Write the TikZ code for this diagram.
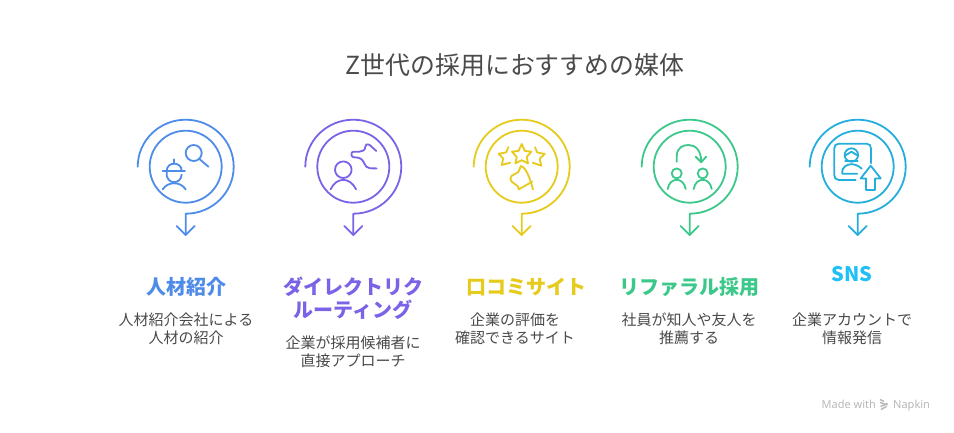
\documentclass[tikz,border=0pt]{standalone}
\usepackage{fontspec}
\setmainfont{Noto Sans CJK JP}
\newfontfamily\latinfont{Noto Sans}
\definecolor{cblue}{HTML}{4F8BE8}
\definecolor{cpurple}{HTML}{7B62E6}
\definecolor{cyellow}{HTML}{E6CB1C}
\definecolor{cgreen}{HTML}{3CC88A}
\definecolor{ccyan}{HTML}{24AEDC}
\definecolor{hcyan}{HTML}{1FC0F6}
\definecolor{ink}{HTML}{4A4A4A}
\tikzset{
  ln/.style={line width=1.8pt,line cap=round,line join=round},
  ttl/.style={font=\fontsize{24.9}{28}\selectfont,text=ink,inner sep=0pt},
  head/.style={font=\bfseries\fontsize{20}{23}\selectfont,inner sep=0pt},
  bodyt/.style={font=\fontsize{15}{18}\selectfont,text=ink,inner sep=0pt},
  wmark/.style={inner sep=0pt,anchor=base west,text=black!28,font=\latinfont\fontsize{11}{12}\selectfont},
}
\newcommand{\spiral}[2]{%
  \draw[ln,#2,shift={#1}] (0,0) circle[radius=36];
  \draw[ln,#2,shift={#1}] (-48,0) arc[start angle=180,end angle=-90,x radius=48,y radius=-47] -- (0,68.3);
  \draw[ln,#2,shift={#1}] (-9,59.3) -- (0,68.3) -- (9,59.3);
}
\begin{document}
\begin{tikzpicture}[x=1pt,y=-1pt]
\useasboundingbox (0,0) rectangle (954,432);
\fill[white] (0,0) rectangle (954,432);
\node[ttl] (title) at (515,64.7) {Z世代の採用におすすめの媒体};

% spirals
\spiral{(185.7,166.7)}{cblue}
\spiral{(353.3,166.7)}{cpurple}
\spiral{(521.7,166.7)}{cyellow}
\spiral{(689.7,166.7)}{cgreen}
\spiral{(857.7,166.7)}{ccyan}

% icon 1
\begin{scope}[shift={(185.7,166.7)},ln,cblue]
  \draw (8,-13.7) circle[radius=8];
  \draw (13.7,-7.7) -- (22.7,0);
  \draw (-23,4.3) -- (-0.7,4.3);
  \draw (-11.7,-7.3) -- (-11.7,-3);
  \draw (-19,4.3) .. controls (-19,-5.5) and (-4,-5.5) .. (-4,4.3);
  \draw (-19,4.3) -- (-19,9) .. controls (-18,13) and (-15,15.5) .. (-11.7,15.5) .. controls (-8,15.5) and (-4.5,13) .. (-4,8);
  \draw (-23,22.7) .. controls (-18,14.5) and (-5,14.5) .. (0,22.7);
\end{scope}

% icon 2
\begin{scope}[shift={(353.3,166.7)},ln,cpurple]
  \draw (-10,3) circle[radius=8.3];
  \draw (-22.7,22.7) .. controls (-17,10) and (-3,10) .. (2.7,22.7);
  \draw (23,-15.7) -- (16,-22) .. controls (14,-23.5) and (12,-22) .. (12,-20) .. controls (12,-16.5) and (9,-15) .. (6,-15)
    -- (-0,-15) .. controls (-2.5,-15) and (-2.5,-10) .. (0,-9.5) -- (5,-9) .. controls (10,-8) and (10,-4) .. (13,0) .. controls (15,1.7) and (17,1.7) .. (23.3,1.7);
\end{scope}

% icon 3
\begin{scope}[shift={(521.7,166.7)},ln,cyellow]
  \draw (0,-22.7) -- (3.2,-15.8) -- (9.7,-15) -- (5,-9.8) -- (6.3,-3.3) -- (0,-6.5) -- (-6.3,-3.3) -- (-5,-9.8) -- (-9.7,-15) -- (-3.2,-15.8) -- cycle;
  \draw (-13.3,-19.5) -- (-15.5,-14.3) -- (-23,-13) -- (-18.5,-8) -- (-20,-1.7) -- (-11.5,-4);
  \draw (13.3,-19.5) -- (15.5,-14.3) -- (23,-12.7) -- (18,-8) -- (19.5,-1) -- (11,-4);
  \draw (-0.7,-0.7) .. controls (4,1) and (8,10) .. (11.3,22.7);
  \draw (-0.7,-0.7) -- (-3.5,5.5) -- (-10,9) .. controls (-12,10.5) and (-11.5,14) .. (-10,15) -- (-3.7,19.7) -- (-3,22.7) -- (10.5,15);
\end{scope}

% icon 4
\begin{scope}[shift={(689.7,166.7)},ln,cgreen]
  \draw (-13,-5) -- (-13,-10) .. controls (-13,-20) and (-6,-21.7) .. (-1,-21.7) .. controls (6,-21.7) and (11.5,-16) .. (11.5,-5);
  \draw (6,-10) -- (11.5,-4.5) -- (16.5,-10);
  \draw (-13,6.7) circle[radius=5];
  \draw (13,6.7) circle[radius=5];
  \draw (-22,22.3) .. controls (-20,10) and (-6,10) .. (-4,22.3);
  \draw (4,22.3) .. controls (6,10) and (20,10) .. (22,22.3);
\end{scope}

% icon 5
\begin{scope}[shift={(857.7,166.7)},ln,ccyan]
  \draw (13.3,-3.5) -- (13.3,-18) .. controls (13.3,-21) and (12,-23) .. (9,-23) -- (-19,-23) .. controls (-22,-23) and (-23.5,-21) .. (-23.5,-18) -- (-23.5,8) .. controls (-23.5,11) and (-22,13.3) .. (-19,13.3) -- (-2,13.3);
  \draw (-6.3,-11.7) circle[radius=6.7];
  \draw (-12,-11.5) -- (-6.3,-15) -- (-0.6,-11.5);
  \draw (-12.5,-6) -- (0,-6);
  \draw (-0.5,7) -- (-15.5,7) -- (-15.5,5) .. controls (-15.5,0) and (-10,-2.5) .. (-6.3,-2.5) .. controls (-3,-2.5) and (1,-1) .. (4,2);
  \draw (13,-1) -- (23,11.7) -- (17.3,11.7) -- (17.3,23.3) -- (8.3,23.3) -- (8.3,11.7) -- (3,11.7) -- cycle;
\end{scope}

% labels
\node[head,text=cblue] (h1) at (186,287) {人材紹介};
\node[head,text=cpurple] (h2a) at (353,287) {ダイレクトリク};
\node[head,text=cpurple] (h2b) at (353,310) {ルーティング};
\node[head,text=cyellow] (h3) at (526,287) {口コミサイト};
\node[head,text=cgreen] (h4) at (689,287) {リファラル採用};
\node[head,text=hcyan] (h5) at (852,274) {SNS};

\node[bodyt] (b1a) at (186,320) {人材紹介会社による};
\node[bodyt] (b1b) at (186,338) {人材の紹介};
\node[bodyt] (b2a) at (353,343) {企業が採用候補者に};
\node[bodyt] (b2b) at (353,361) {直接アプローチ};
\node[bodyt] (b3a) at (515,320) {企業の評価を};
\node[bodyt] (b3b) at (515,338) {確認できるサイト};
\node[bodyt] (b4a) at (689,320) {社員が知人や友人を};
\node[bodyt] (b4b) at (689,338) {推薦する};
\node[bodyt] (b5a) at (852,320) {企業アカウントで};
\node[bodyt] (b5b) at (852,338) {情報発信};

% watermark
\node[wmark] (wm1) at (821.5,408) {Made with};
\node[wmark] (wm2) at (893,408) {Napkin};
\begin{scope}[black!28,line width=1.5pt]
  \draw (880,399.5) -- (884,401.5);
  \draw (880,402.5) -- (887.5,405);
  \draw (880.5,406.5) -- (887.5,403.5);
  \draw (881,409.5) -- (886.5,406.5);
\end{scope}
\end{tikzpicture}
\end{document}
